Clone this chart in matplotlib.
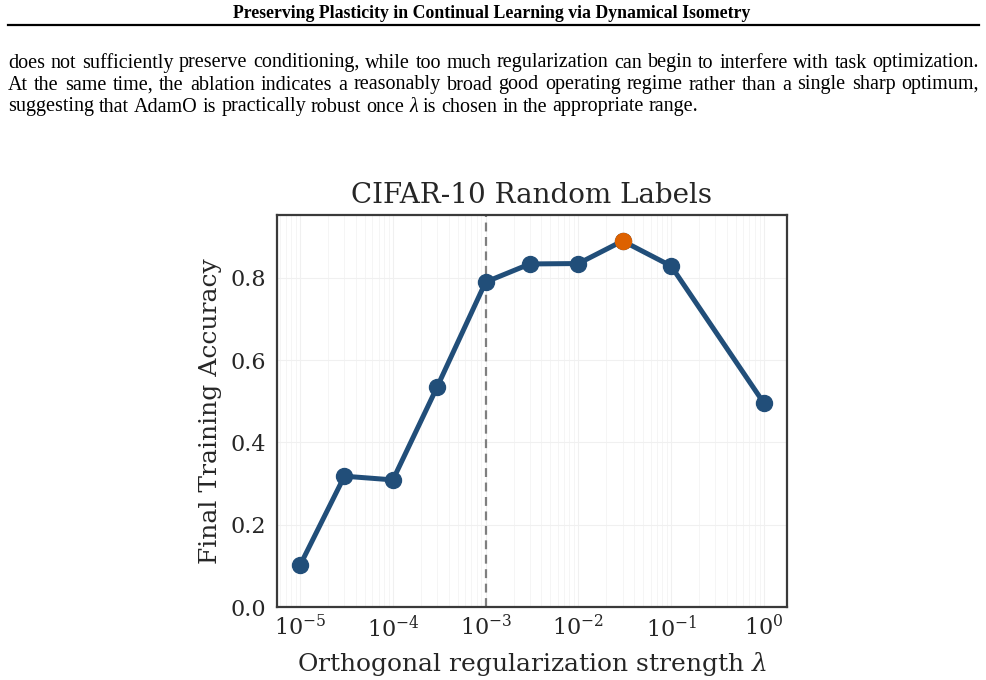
import matplotlib
matplotlib.use("Agg")
import matplotlib.pyplot as plt
import numpy as np

# ---------------- data ----------------
lambdas = [1e-5, 3e-5, 1e-4, 3e-4, 1e-3, 3e-3, 1e-2, 3e-2, 1e-1, 1e0]
accuracy = [0.102, 0.318, 0.309, 0.535, 0.790, 0.834, 0.835, 0.890, 0.829, 0.496]
best_index = 7
chosen_lambda = 1e-3
y_ticks = [0.0, 0.2, 0.4, 0.6, 0.8]

header = "Preserving Plasticity in Continual Learning via Dynamical Isometry"
body_lines = [
    "does not sufficiently preserve conditioning, while too much regularization can begin to interfere with task optimization.",
    "At the same time, the ablation indicates a reasonably broad good operating regime rather than a single sharp optimum,",
    "suggesting that AdamO is practically robust once λ is chosen in the appropriate range.",
]

plt.rcParams["mathtext.fontset"] = "dejavuserif"

W, H = 987, 680
fig = plt.figure(figsize=(W / 100, H / 100), dpi=100)
fig.patch.set_facecolor("white")
renderer = fig.canvas.get_renderer()

# ---------------- page header ----------------
fig.text(492 / W, 1 - 14 / H, header, ha="center", va="center",
         family="Liberation Serif", weight="bold", fontsize=12.8, color="black")
fig.add_artist(plt.Line2D([8 / W, 979 / W], [1 - 25 / H, 1 - 25 / H],
                          color="black", lw=1.6, transform=fig.transFigure))

# ---------------- body text (justified) ----------------
x_left, x_right = 8, 979
line_y = [63, 85, 107]

probe = fig.text(0, 0, body_lines[0], family="Liberation Serif", fontsize=10)
w10 = probe.get_window_extent(renderer).width
probe.remove()
fs = 10 * (x_right - x_left) / w10 * 0.995

def measure(s, style="normal"):
    t = fig.text(0, 0, s, family="Liberation Serif", fontsize=fs, style=style)
    w = t.get_window_extent(renderer).width
    t.remove()
    return w

sp = measure("a a") - measure("aa")
for i, (line, ly) in enumerate(zip(body_lines, line_y)):
    words = line.split(" ")
    texts = []
    for w in words:
        style = "italic" if w == "λ" else "normal"
        t = fig.text(0, 1 - ly / H, w, ha="left", va="center",
                     family="Liberation Serif", fontsize=fs, style=style, color="black")
        texts.append(t)
    widths = [t.get_window_extent(renderer).width for t in texts]
    if i < len(body_lines) - 1:
        gap = (x_right - x_left - sum(widths)) / (len(words) - 1)
    else:
        gap = sp
    x = x_left
    for t, wd in zip(texts, widths):
        t.set_x(x / W)
        x += wd + gap

# ---------------- chart ----------------
ax = fig.add_axes([277 / W, (H - 607) / H, 510 / W, 392 / H])
ax.set_facecolor("white")
ax.set_xscale("log")
ax.grid(True, which="major", color="#f0f0f0", lw=0.8)
ax.grid(True, which="minor", axis="x", color="#f4f4f4", lw=0.6)
ax.set_axisbelow(True)

ax.axvline(chosen_lambda, color="#7f7f7f", ls=(0, (4, 2.5)), lw=1.6, zorder=1)
ax.plot(lambdas, accuracy, color="#214e79", lw=3.6, marker="o", ms=11.5,
        zorder=3)
ax.plot([lambdas[best_index]], [accuracy[best_index]], "o", color="#dd6100",
        ms=11.5, zorder=4)

ax.set_ylim(0, 0.953)
ax.set_yticks(y_ticks)
ax.set_xlim(10 ** -5.25, 10 ** 0.25)

txt = "#262626"
for s in ax.spines.values():
    s.set_color("#3a3a3a")
    s.set_linewidth(1.6)
ax.tick_params(which="both", length=0, labelsize=16, colors=txt, pad=6)
ax.tick_params(axis="y", pad=8)
for lab in ax.get_xticklabels() + ax.get_yticklabels():
    lab.set_family("DejaVu Serif")

ax.set_title("CIFAR-10 Random Labels", family="DejaVu Serif", fontsize=20,
             color=txt, pad=9)
ax.set_xlabel("Orthogonal regularization strength $\\lambda$", family="DejaVu Serif",
              fontsize=18, color=txt, labelpad=6)
ax.set_ylabel("Final Training Accuracy", family="DejaVu Serif", fontsize=18,
              color=txt, labelpad=6)

fig.savefig("out.png", dpi=100, facecolor="white")
